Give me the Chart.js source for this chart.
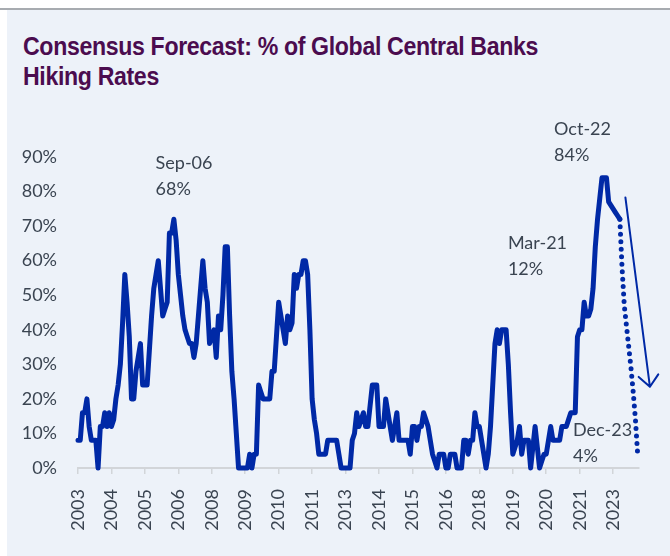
<!DOCTYPE html>
<html><head><meta charset="utf-8">
<script src="https://cdn.jsdelivr.net/npm/chart.js@4.4.1/dist/chart.umd.min.js"></script>
<style>
html,body{margin:0;padding:0;width:670px;height:556px;background:#fff;overflow:hidden;}
#topline{position:absolute;left:0;top:8px;width:670px;height:2px;background:#a7abb0;}
#panel{position:absolute;left:7px;top:10px;width:663px;height:546px;background:#edf2f9;}
#title{position:absolute;left:23px;top:31px;font-family:"Liberation Sans","Arial",sans-serif;font-weight:bold;font-size:26px;line-height:30px;color:#4b0c4f;letter-spacing:-0.4px;white-space:nowrap;transform:scaleX(0.89);transform-origin:0 0;}
#wrap{position:absolute;left:0;top:0;width:670px;height:556px;}
</style></head>
<body>
<div id="topline"></div><div id="panel"></div>
<div id="title">Consensus Forecast: % of Global Central Banks<br>Hiking Rates</div>
<div id="wrap"><canvas id="c" width="670" height="556"></canvas></div>
<script>
// Monthly % of global central banks hiking rates (consensus), Jan 2003 onward
const rates2003to2007 = [
  8, 8, 16, 16, 20, 12, 8, 8, 8, 0, 12, 12,
  16, 12, 16, 12, 14, 20, 24, 30, 42, 56, 48, 38,
  20, 20, 28, 32, 36, 24, 24, 24, 34, 44, 52, 56,
  60, 52, 44, 46, 48, 68, 68, 72, 66, 56, 50, 44,
  40, 38, 36, 36, 32, 36, 44, 52, 60, 52, 48, 36
];
const rates2008to2012 = [
  38, 40, 32, 44, 40, 50, 64, 64, 44, 28, 20, 10,
  0, 0, 0, 0, 0, 4, 0, 4, 4, 24, 22, 20,
  20, 20, 20, 28, 28, 38, 48, 44, 40, 36, 44, 40,
  42, 56, 52, 56, 56, 60, 60, 56, 40, 20, 14, 10,
  4, 4, 4, 4, 8, 8, 8, 8, 8, 4, 0, 0
];
const rates2013to2017 = [
  0, 0, 0, 8, 10, 16, 12, 14, 16, 12, 12, 18,
  24, 24, 24, 12, 12, 12, 20, 16, 12, 8, 12, 16,
  8, 8, 8, 8, 8, 4, 12, 12, 8, 12, 12, 16,
  14, 12, 8, 4, 2, 0, 4, 4, 4, 0, 0, 4,
  4, 4, 0, 0, 0, 8, 8, 4, 8, 8, 16, 12
];
const rates2018toApr2023 = [
  12, 8, 4, 0, 4, 12, 24, 36, 40, 36, 40, 40,
  40, 30, 16, 4, 6, 8, 12, 4, 8, 8, 8, 0,
  6, 12, 6, 0, 2, 4, 4, 8, 12, 8, 8, 8,
  8, 12, 12, 12, 14, 16, 16, 16, 38, 40, 40, 48,
  44, 44, 46, 52, 64, 72, 78, 84, 84, 84, 77, 76,
  75, 74, 73, 72
];
// Forecast path Apr 2023 -> Dec 2023
const forecastApr2023toDec2023 = [72, 58, 47, 41, 35, 29, 22, 14, 4];

const tickYears = ['2003','2004','2005','2006','2008','2009','2010','2011','2013','2014','2015','2016','2018','2019','2020','2021','2023'];
const monthsPerTick = 15;
const yTickValues = [0, 10, 20, 30, 40, 50, 60, 70, 80, 90];

// annotation texts (positions in data units: month index, percent)
const noteTexts = [['Sep-06','68%'], ['Oct-22','84%'], ['Mar-21','12%'], ['Dec-23','4%']];
const noteX = [34.8, 213.5, 192.8, 222];
const noteY = [88.3, 98.1, 65.1, 11];
const arrowFrom = [245.5, 78.3];
const arrowTo = [256.5, 23.5];

const actual = [].concat(rates2003to2007, rates2008to2012, rates2013to2017, rates2018toApr2023);
const forecastStart = actual.length - 1;
const lastIndex = forecastStart + forecastApr2023toDec2023.length - 1;

const BLUE = '#0029a6';
const TXT = '#3a4451';

const notesPlugin = {
  id: 'notes',
  afterDatasetsDraw(chart) {
    const {ctx, scales: {x, y}} = chart;
    ctx.save();
    ctx.font = '18px Lato';
    ctx.fillStyle = TXT;
    ctx.textAlign = 'left';
    ctx.textBaseline = 'middle';
    noteTexts.forEach((lines, i) => {
      const px = x.getPixelForValue(noteX[i]);
      const py = y.getPixelForValue(noteY[i]);
      lines.forEach((t, k) => ctx.fillText(t, px, py + k * 26));
    });
    // arrow
    const x0 = x.getPixelForValue(arrowFrom[0]), y0 = y.getPixelForValue(arrowFrom[1]);
    const x1 = x.getPixelForValue(arrowTo[0]), y1 = y.getPixelForValue(arrowTo[1]);
    ctx.strokeStyle = BLUE;
    ctx.lineWidth = 2;
    ctx.lineCap = 'round';
    ctx.lineJoin = 'round';
    ctx.beginPath();
    ctx.moveTo(x0, y0); ctx.lineTo(x1, y1);
    const ang = Math.atan2(y0 - y1, x0 - x1);
    const len = 15, spread = 0.72;
    ctx.moveTo(x1 + len * Math.cos(ang - spread), y1 + len * Math.sin(ang - spread));
    ctx.lineTo(x1, y1);
    ctx.lineTo(x1 + len * Math.cos(ang + spread), y1 + len * Math.sin(ang + spread));
    ctx.stroke();
    ctx.restore();
  }
};

new Chart(document.getElementById('c'), {
  type: 'line',
  data: {
    datasets: [
      {
        data: actual.map((v, i) => ({x: i, y: v})),
        borderColor: BLUE, borderWidth: 5, pointRadius: 0,
        borderJoinStyle: 'round', borderCapStyle: 'round', tension: 0, clip: false
      },
      {
        data: forecastApr2023toDec2023.map((v, i) => ({x: forecastStart + i, y: v})),
        borderColor: BLUE, borderWidth: 5, pointRadius: 0,
        borderDash: [0, 7.5], borderCapStyle: 'round', tension: 0, clip: false
      }
    ]
  },
  options: {
    responsive: false,
    animation: false,
    events: [],
    layout: {padding: {top: 157, right: 31, left: 0, bottom: 0}},
    plugins: {legend: {display: false}, tooltip: {enabled: false}, title: {display: false}},
    scales: {
      x: {
        type: 'linear', min: 0, max: lastIndex + 0.6,
        afterBuildTicks: s => { s.ticks = tickYears.map((_, i) => ({value: i * monthsPerTick})); },
        afterFit: s => { s.height = 88; },
        grid: {display: true, drawOnChartArea: false, drawTicks: true, tickLength: 6, color: '#d2d5d9', lineWidth: 1.5},
        border: {display: true, color: '#d2d5d9', width: 2},
        ticks: {
          autoSkip: false, minRotation: 90, maxRotation: 90, padding: 15,
          color: TXT, font: {family: 'Lato', size: 18},
          callback: (v, i) => tickYears[i]
        }
      },
      y: {
        min: 0, max: 90,
        afterBuildTicks: s => { s.ticks = yTickValues.map(v => ({value: v})); },
        afterFit: s => { s.width = 78; },
        grid: {display: false, drawTicks: false},
        border: {display: false},
        ticks: {padding: 21, color: TXT, font: {family: 'Lato', size: 18}, callback: v => v + '%'}
      }
    }
  },
  plugins: [notesPlugin]
});
</script>
</body></html>
